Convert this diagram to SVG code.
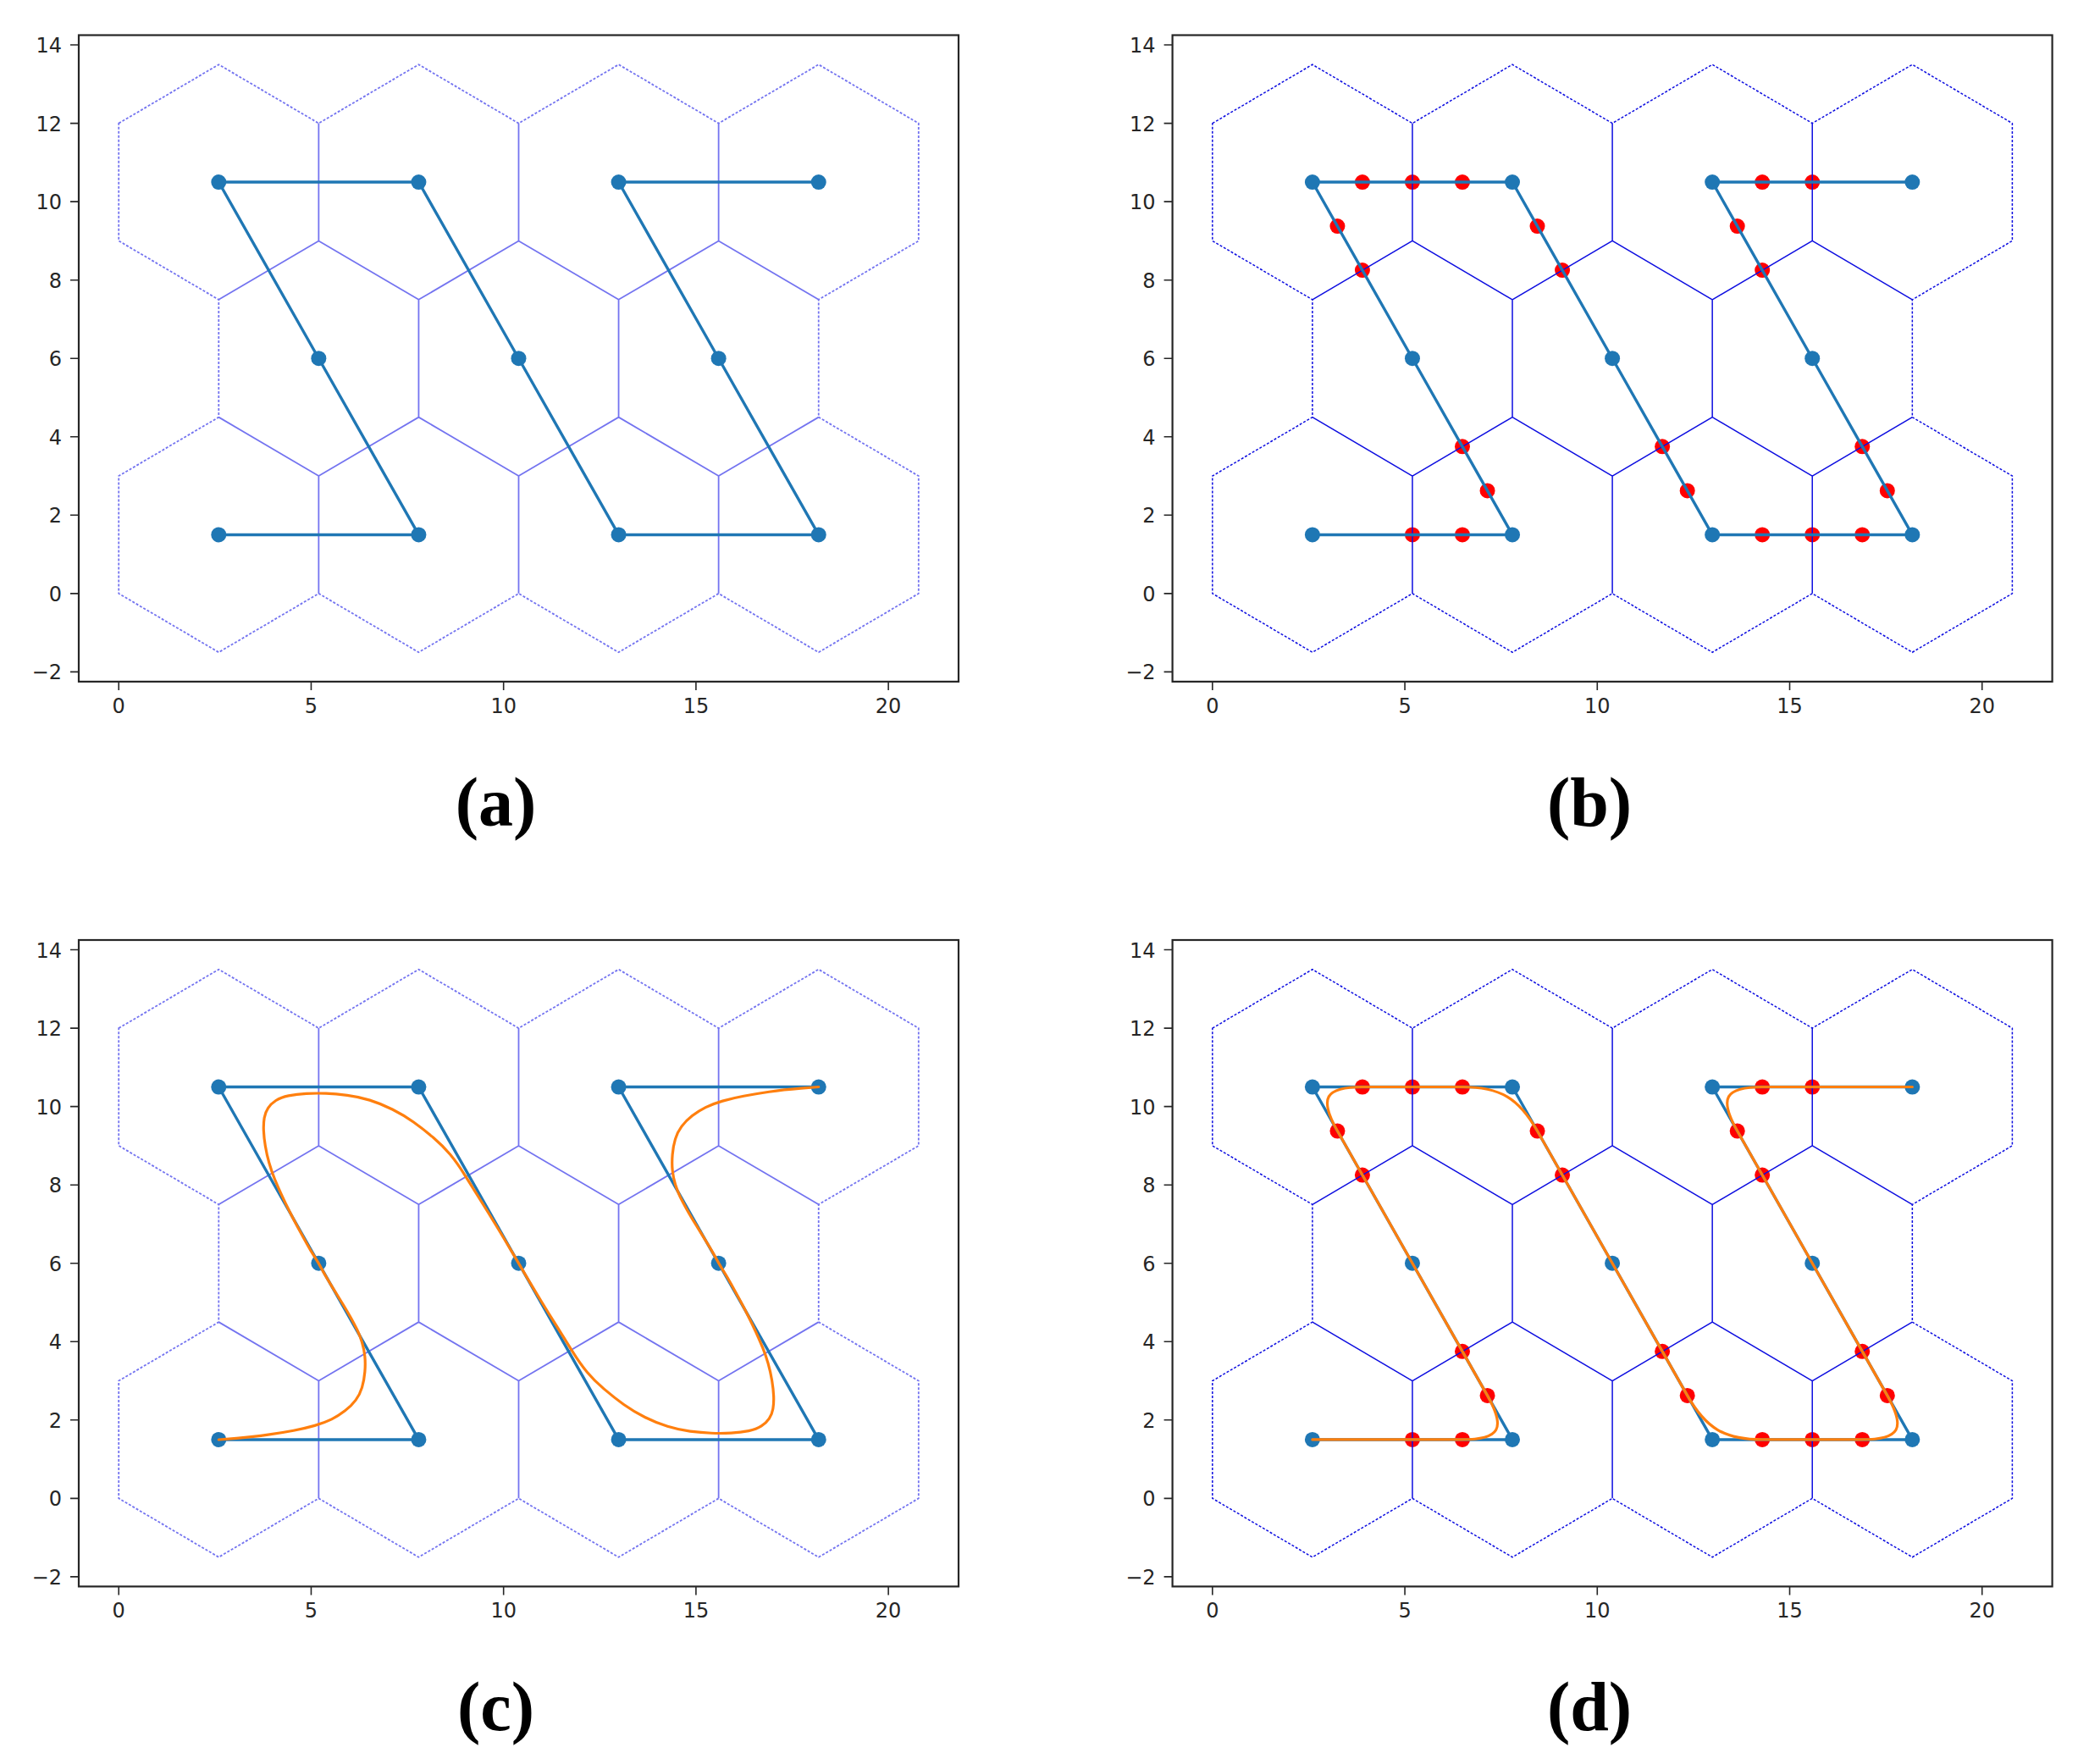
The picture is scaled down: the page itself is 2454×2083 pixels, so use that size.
<svg xmlns="http://www.w3.org/2000/svg" xmlns:xlink="http://www.w3.org/1999/xlink" width="2454" height="2083" viewBox="0 0 2454 2083">
<style>
.frame{fill:none;stroke:#262626;stroke-width:2.2}
.tick{fill:none;stroke:#262626;stroke-width:1.6}
.tl{font-family:"DejaVu Sans",sans-serif;font-size:24px;fill:#262626}
.yl{text-anchor:end}
.xl{text-anchor:middle}
.bpath{fill:none;stroke:#1f77b4;stroke-width:3.4;stroke-linejoin:round}
.mk{fill:#1f77b4}
.red{fill:#ff0000}
.orange{fill:none;stroke:#ff7f0e;stroke-width:3.2;stroke-linejoin:round;stroke-linecap:round}
.lbl{font-family:"Liberation Serif","Times New Roman",serif;font-weight:bold;font-size:82px;text-anchor:middle;fill:#000}
.hexA{stroke:#7474f0;stroke-width:1.8}
.hexB{stroke:#0e0ee0;stroke-width:1.5}
</style>
<defs>
<g id="hexSolid" fill="none">
<path d="M283.36,104.11V242.92M519.49,104.11V242.92M755.63,104.11V242.92M165.3,312.33L283.36,242.92 401.43,312.33 519.49,242.92 637.56,312.33 755.63,242.92 873.74,312.33M401.43,312.33V451.14M637.56,312.33V451.14M165.3,451.14L283.36,520.54 401.43,451.14 519.49,520.54 637.56,451.14 755.63,520.54 873.74,451.14M283.36,520.54V659.35M519.49,520.54V659.35M755.63,520.54V659.35"/>
</g>
<g id="hexDash" fill="none">
<path stroke-dasharray="3 2" d="M47.23,104.11L165.3,34.71 283.36,104.11 401.43,34.71 519.49,104.11 637.56,34.71 755.63,104.11 873.74,34.71 991.81,104.11 991.81,242.92 873.74,312.33 873.74,451.14 991.81,520.54 991.81,659.35 873.74,728.76 755.63,659.35 637.56,728.76 519.49,659.35 401.43,728.76 283.36,659.35 165.3,728.76 47.23,659.35 47.23,520.54 165.3,451.14 165.3,312.33 47.23,242.92Z"/>
</g>
<g id="blue">
<path class="bpath" d="M165.3,589.95L401.43,589.95 283.36,381.73 165.3,173.52 401.43,173.52 519.49,381.73 637.56,589.95 873.74,589.95 755.63,381.73 637.56,173.52 873.74,173.52"/>
<circle class="mk" cx="165.3" cy="589.95" r="9"/>
<circle class="mk" cx="401.43" cy="589.95" r="9"/>
<circle class="mk" cx="283.36" cy="381.73" r="9"/>
<circle class="mk" cx="165.3" cy="173.52" r="9"/>
<circle class="mk" cx="401.43" cy="173.52" r="9"/>
<circle class="mk" cx="519.49" cy="381.73" r="9"/>
<circle class="mk" cx="637.56" cy="589.95" r="9"/>
<circle class="mk" cx="873.74" cy="589.95" r="9"/>
<circle class="mk" cx="755.63" cy="381.73" r="9"/>
<circle class="mk" cx="637.56" cy="173.52" r="9"/>
<circle class="mk" cx="873.74" cy="173.52" r="9"/>
</g>
<g id="reds">
<circle class="red" cx="224.33" cy="173.52" r="9"/>
<circle class="red" cx="283.36" cy="173.52" r="9"/>
<circle class="red" cx="342.4" cy="173.52" r="9"/>
<circle class="red" cx="194.84" cy="225.57" r="9"/>
<circle class="red" cx="224.33" cy="277.62" r="9"/>
<circle class="red" cx="371.94" cy="537.89" r="9"/>
<circle class="red" cx="342.4" cy="485.84" r="9"/>
<circle class="red" cx="283.36" cy="589.95" r="9"/>
<circle class="red" cx="342.4" cy="589.95" r="9"/>
<circle class="red" cx="430.92" cy="225.57" r="9"/>
<circle class="red" cx="460.46" cy="277.62" r="9"/>
<circle class="red" cx="578.53" cy="485.84" r="9"/>
<circle class="red" cx="608.07" cy="537.89" r="9"/>
<circle class="red" cx="696.59" cy="589.95" r="9"/>
<circle class="red" cx="755.63" cy="589.95" r="9"/>
<circle class="red" cx="814.66" cy="589.95" r="9"/>
<circle class="red" cx="814.66" cy="485.84" r="9"/>
<circle class="red" cx="844.2" cy="537.89" r="9"/>
<circle class="red" cx="696.59" cy="173.52" r="9"/>
<circle class="red" cx="755.63" cy="173.52" r="9"/>
<circle class="red" cx="667.1" cy="225.57" r="9"/>
<circle class="red" cx="696.59" cy="277.62" r="9"/>
</g>
<g id="axes">
<rect class="frame" x="0" y="0" width="1039" height="763.4"/>
<path class="tick" d="M-10,11.57H0M-10,104.11H0M-10,196.65H0M-10,289.19H0M-10,381.73H0M-10,474.27H0M-10,566.81H0M-10,659.35H0M-10,751.89H0M47.23,763.4V773.4M274.46,763.4V773.4M501.68,763.4V773.4M728.91,763.4V773.4M956.13,763.4V773.4"/>
<text class="tl yl" x="-20" y="20.5">14</text>
<text class="tl yl" x="-20" y="113">12</text>
<text class="tl yl" x="-20" y="205.6">10</text>
<text class="tl yl" x="-20" y="298.1">8</text>
<text class="tl yl" x="-20" y="390.7">6</text>
<text class="tl yl" x="-20" y="483.2">4</text>
<text class="tl yl" x="-20" y="575.8">2</text>
<text class="tl yl" x="-20" y="668.3">0</text>
<text class="tl yl" x="-20" y="760.8">−2</text>
<text class="tl xl" x="47.23" y="800">0</text>
<text class="tl xl" x="274.46" y="800">5</text>
<text class="tl xl" x="501.68" y="800">10</text>
<text class="tl xl" x="728.91" y="800">15</text>
<text class="tl xl" x="956.13" y="800">20</text>
</g>
</defs>

<g id="panel-a" transform="translate(93,41.5)">
<use href="#hexSolid" class="hexA"/>
<use href="#hexDash" class="hexA"/>
<use href="#blue"/>
<use href="#axes"/>
</g>

<g id="panel-b" transform="translate(1384.6,41.5)">
<use href="#reds"/>
<use href="#hexSolid" class="hexB"/>
<use href="#hexDash" class="hexB"/>
<use href="#blue"/>
<use href="#axes"/>
</g>

<g id="panel-c" transform="translate(93,1110)">
<use href="#hexSolid" class="hexA"/>
<use href="#hexDash" class="hexA"/>
<use href="#blue"/>
<path id="spline-c" class="orange" d="M165.3,590L186.15,588.35Q207,586.7 223.65,584.2Q240.3,581.7 253.65,579.2Q267,576.7 278.65,573.35Q290.3,570 298.65,565.85Q307,561.7 314.5,555.85Q322,550 327,543.35Q332,536.7 334.5,528.35Q337,520 337.85,510Q338.7,500 337.85,491.65Q337,483.3 334.5,475Q332,466.7 328.65,460Q325.3,453.3 321.15,445.8Q317,438.3 310.35,427.5Q303.7,416.7 297,405.85Q290.3,395 286.85,388.35Q283.4,381.7 278.55,374.2Q273.7,366.7 268.7,357.5Q263.7,348.3 258.7,339.15Q253.7,330 248.7,320Q243.7,310 239.5,300.85Q235.3,291.7 231.5,282.5Q227.7,273.3 224.85,263.3Q222,253.3 220.35,243.3Q218.7,233.3 218.35,225Q218,216.7 219.15,210Q220.3,203.3 223.65,198.3Q227,193.3 232.85,189.5Q238.7,185.7 247.85,183.85Q257,182 268.65,181.35Q280.3,180.7 292,181.2Q303.7,181.7 317,183.35Q330.3,185 343.65,189.15Q357,193.3 370.35,200Q383.7,206.7 395.35,215Q407,223.3 418.65,233.3Q430.3,243.3 438.65,253.3Q447,263.3 456.25,278.15Q465.5,293 474.75,307.75Q484,322.5 493,337.25Q502,352 510.75,366.85Q519.5,381.7 528.23,396.61Q536.98,411.46 545.98,426.21Q554.98,440.96 564.23,455.71Q573.48,470.46 582.73,485.31Q591.98,500.16 600.33,510.16Q608.68,520.16 620.33,530.16Q631.98,540.16 643.63,548.46Q655.28,556.76 668.63,563.46Q681.98,570.16 695.33,574.31Q708.68,578.46 721.98,580.11Q735.28,581.76 746.98,582.26Q758.68,582.76 770.33,582.11Q781.98,581.46 791.13,579.61Q800.28,577.76 806.13,573.96Q811.98,570.16 815.33,565.16Q818.68,560.16 819.83,553.46Q820.98,546.76 820.63,538.46Q820.28,530.16 818.63,520.16Q816.98,510.16 814.13,500.16Q811.28,490.16 807.48,480.96Q803.68,471.76 799.48,462.61Q795.28,453.46 790.28,443.46Q785.28,433.46 780.28,424.31Q775.28,415.16 770.28,405.96Q765.28,396.76 760.43,389.26Q755.58,381.76 752.13,375.11Q748.68,368.46 741.98,357.61Q735.28,346.76 728.63,335.96Q721.98,325.16 717.83,317.66Q713.68,310.16 710.33,303.46Q706.98,296.76 704.48,288.46Q701.98,280.16 701.13,271.81Q700.28,263.46 701.13,253.46Q701.98,243.46 704.48,235.11Q706.98,226.76 711.98,220.11Q716.98,213.46 724.48,207.61Q731.98,201.76 740.33,197.61Q748.68,193.46 760.33,190.11Q771.98,186.76 785.33,184.26Q798.68,181.76 815.33,179.26Q831.98,176.76 852.83,175.11L873.74,173.52"/>
<use href="#axes"/>
</g>

<g id="panel-d" transform="translate(1384.6,1110)">
<use href="#reds"/>
<use href="#hexSolid" class="hexB"/>
<use href="#hexDash" class="hexB"/>
<use href="#blue"/>
<path id="spline-d" class="orange" d="M165.3,589.95L342.4,589.95C386.67,589.95 394.06,576.94 371.94,537.89L194.84,225.57C172.68,186.53 180.06,173.52 224.33,173.52L342.4,173.52C386.67,173.52 408.8,186.53 430.92,225.57L608.07,537.89C630.19,576.94 652.32,589.95 696.59,589.95L814.66,589.95C858.97,589.95 866.36,576.94 844.2,537.89L667.1,225.57C644.94,186.53 652.32,173.52 696.59,173.52L873.74,173.52"/>
<use href="#axes"/>
</g>

<g id="labels">
<text class="lbl" x="585.5" y="975">(a)</text>
<text class="lbl" x="1877" y="975">(b)</text>
<text class="lbl" x="585.5" y="2043">(c)</text>
<text class="lbl" x="1877" y="2043">(d)</text>
</g>
</svg>
